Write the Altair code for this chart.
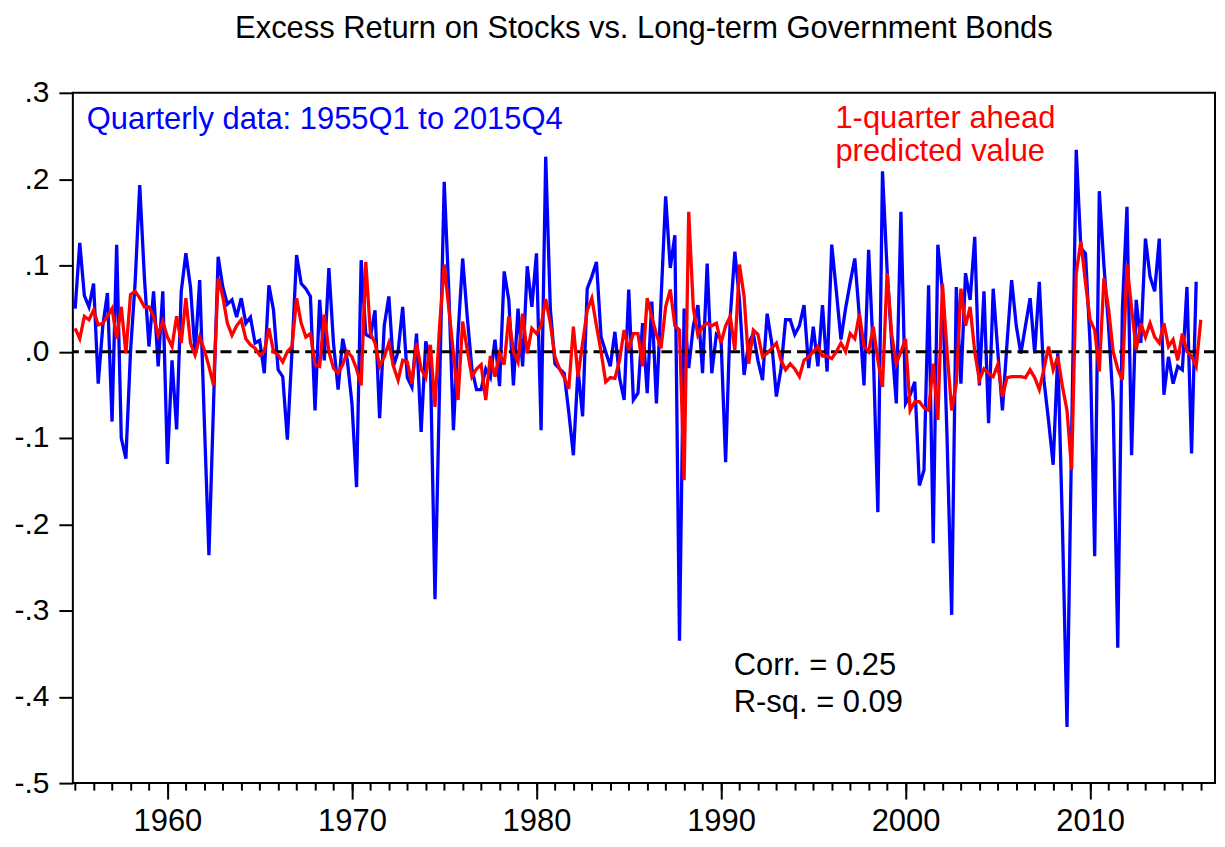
import altair as alt
import pandas as pd

# ---------------- data ----------------
# Excess return on stocks vs long-term government bonds, quarterly, 1955Q1..2015Q4
excess_1955_1964 = [
    0.050, 0.126, 0.065, 0.052, 0.079, -0.037, 0.030, 0.068, -0.081, 0.124,
    -0.100, -0.124, 0.000, 0.080, 0.193, 0.087, 0.006, 0.070, -0.017, 0.070,
    -0.130, -0.010, -0.090, 0.070, 0.114, 0.075, -0.002, 0.083, -0.080, -0.236,
    -0.060, 0.110, 0.075, 0.055, 0.060, 0.040, 0.062, 0.033, 0.040, 0.010]
excess_1965_1974 = [
    0.013, -0.025, 0.077, 0.048, -0.021, -0.029, -0.102, 0.000, 0.112, 0.079,
    0.073, 0.064, -0.068, 0.060, -0.010, 0.097, 0.010, -0.044, 0.015, -0.010,
    -0.060, -0.157, 0.106, 0.020, 0.017, 0.048, -0.077, 0.030, 0.064, -0.017,
    0.000, 0.052, -0.030, -0.041, 0.021, -0.093, 0.012, -0.010, -0.287, -0.040]
excess_1975_1984 = [
    0.197, 0.070, -0.091, 0.020, 0.108, 0.040, -0.020, -0.044, -0.044, -0.020,
    -0.030, 0.014, -0.040, 0.093, 0.060, -0.039, 0.050, -0.017, 0.099, 0.052,
    0.114, -0.091, 0.226, 0.050, -0.014, -0.020, -0.025, -0.070, -0.120, -0.020,
    -0.075, 0.073, 0.087, 0.104, 0.017, 0.000, -0.017, 0.023, -0.030, -0.056]
excess_1985_1994 = [
    0.072, -0.056, -0.048, 0.033, -0.048, 0.058, -0.060, 0.060, 0.180, 0.097,
    0.135, -0.335, 0.050, -0.019, 0.030, 0.054, -0.025, 0.102, -0.025, 0.020,
    0.015, -0.128, 0.040, 0.116, 0.060, -0.027, 0.010, 0.021, -0.010, -0.033,
    0.044, 0.010, -0.052, -0.020, 0.037, 0.037, 0.020, 0.030, 0.054, -0.019]
excess_1995_2004 = [
    0.029, -0.017, 0.054, -0.023, 0.124, 0.070, 0.014, 0.050, 0.080, 0.108,
    0.040, -0.039, 0.118, 0.000, -0.186, 0.209, 0.095, 0.010, -0.060, 0.162,
    -0.060, -0.050, -0.035, -0.155, -0.137, 0.077, -0.222, 0.124, 0.070, -0.100,
    -0.305, 0.075, -0.037, 0.091, 0.060, 0.133, -0.039, 0.070, -0.083, 0.073]
excess_2005_2015 = [
    0.000, -0.068, 0.010, 0.083, 0.030, -0.002, 0.030, 0.062, -0.002, 0.081,
    -0.033, -0.080, -0.131, -0.002, -0.200, -0.435, -0.100, 0.234, 0.120, 0.114,
    0.010, -0.237, 0.186, 0.100, 0.030, -0.060, -0.343, 0.050, 0.168, -0.120,
    0.060, 0.010, 0.131, 0.087, 0.070, 0.131, -0.050, -0.006, -0.037, -0.017,
    -0.021, 0.075, -0.118, 0.081]

# 1-quarter ahead predicted value, 1955Q1..2016Q1
predicted_1955_1964 = [
    0.027, 0.015, 0.041, 0.037, 0.048, 0.031, 0.033, 0.041, 0.050, 0.015,
    0.052, -0.002, 0.066, 0.070, 0.062, 0.052, 0.052, 0.041, 0.019, 0.035,
    0.017, 0.006, 0.041, 0.010, 0.062, 0.010, -0.004, 0.017, 0.002, -0.017,
    -0.039, 0.085, 0.064, 0.033, 0.019, 0.030, 0.037, 0.015, 0.008, 0.004]
predicted_1965_1974 = [
    -0.004, 0.000, 0.027, 0.000, -0.004, -0.012, 0.000, 0.006, 0.062, 0.033,
    0.017, 0.021, -0.015, -0.017, 0.043, 0.000, -0.019, -0.025, -0.015, 0.000,
    -0.006, -0.020, -0.039, 0.104, 0.021, 0.010, -0.017, -0.006, 0.010, -0.017,
    -0.033, -0.010, -0.012, -0.037, 0.010, -0.020, -0.030, 0.008, -0.064, 0.030]
predicted_1975_1984 = [
    0.101, 0.050, -0.002, -0.056, 0.035, 0.002, -0.029, -0.020, -0.015, -0.056,
    -0.005, -0.029, -0.002, -0.015, 0.041, 0.000, -0.012, 0.044, -0.002, 0.027,
    0.021, 0.030, 0.061, 0.033, -0.006, -0.020, -0.030, -0.043, 0.029, -0.029,
    0.010, 0.048, 0.062, 0.030, 0.000, -0.035, -0.030, -0.031, -0.010, 0.025]
predicted_1985_1994 = [
    0.002, 0.021, 0.021, -0.017, 0.062, 0.040, 0.020, 0.004, 0.052, 0.072,
    0.030, 0.025, -0.149, 0.162, 0.050, 0.019, 0.029, 0.033, 0.030, 0.033,
    0.010, 0.030, 0.041, 0.002, 0.101, 0.064, -0.014, 0.025, 0.020, -0.006,
    -0.002, 0.004, 0.010, -0.010, -0.021, -0.014, -0.020, -0.029, -0.010, -0.006]
predicted_1995_2004 = [
    0.000, 0.006, -0.005, -0.005, -0.008, 0.000, 0.010, 0.000, 0.021, 0.015,
    0.044, 0.006, 0.000, 0.029, -0.010, -0.041, 0.091, 0.020, -0.014, 0.000,
    0.015, -0.068, -0.058, -0.058, -0.065, -0.068, -0.014, -0.079, 0.079, 0.000,
    -0.068, -0.037, 0.073, 0.030, 0.052, 0.000, -0.033, -0.020, -0.025, -0.029]
predicted_2005_2016 = [
    -0.015, -0.052, -0.030, -0.029, -0.029, -0.029, -0.030, -0.021, -0.030, -0.044,
    -0.020, 0.006, -0.021, -0.006, -0.040, -0.068, -0.137, 0.091, 0.128, 0.080,
    0.037, 0.025, -0.023, 0.085, 0.050, 0.000, -0.020, -0.033, 0.101, 0.050,
    0.002, 0.033, 0.017, 0.033, 0.017, 0.010, 0.033, 0.006, 0.014, -0.010,
    0.021, 0.000, -0.005, -0.017, 0.037]

start_year = 1955
major_years = [1960, 1970, 1980, 1990, 2000, 2010]
minor_years = list(range(1955, 2017))
y_ticks = [-0.5, -0.4, -0.3, -0.2, -0.1, 0.0, 0.1, 0.2, 0.3]

title_text = "Excess Return on Stocks vs. Long-term Government Bonds"
note_texts = ["Quarterly data: 1955Q1 to 2015Q4", "1-quarter ahead",
              "predicted value", "Corr. = 0.25", "R-sq. = 0.09"]

# ---------------- tables ----------------
actual = (excess_1955_1964 + excess_1965_1974 + excess_1975_1984 +
          excess_1985_1994 + excess_1995_2004 + excess_2005_2015)
predicted = (predicted_1955_1964 + predicted_1965_1974 + predicted_1975_1984 +
             predicted_1985_1994 + predicted_1995_2004 + predicted_2005_2016)

df_act = pd.DataFrame({"t": [start_year + i / 4 for i in range(len(actual))],
                       "v": actual})
df_pred = pd.DataFrame({"t": [start_year + i / 4 for i in range(len(predicted))],
                        "v": predicted})
df_zero = pd.DataFrame({"v": [0.0]})

# annotation placement (data coordinates) and colours
note_t = [1955.63, 1996.20, 1996.20, 1990.69, 1990.69]
note_v = [0.2575, 0.2595, 0.2210, -0.3750, -0.4180]
note_c = ["#0000FF", "#FF0000", "#FF0000", "#000000", "#000000"]
df_notes = pd.DataFrame({"t": note_t, "v": note_v, "label": note_texts, "c": note_c})

FONT = "Liberation Sans"
x_scale = alt.Scale(domain=[1954.875, 2016.77], nice=False, zero=False)
y_scale = alt.Scale(domain=[-0.5, 0.3], nice=False, zero=False)

y_axis = alt.Axis(
    values=y_ticks,
    labelExpr="(datum.value < -0.0001 ? '-' : '') + '.' + format(round(abs(datum.value) * 10), 'd')",
    tickSize=14, tickWidth=2, tickColor="black",
    labelPadding=10, labelFontSize=30, labelFont=FONT, labelColor="black",
    domain=False, grid=False, title=None,
)
major_axis = alt.Axis(
    orient="bottom", values=major_years, format="d",
    tickSize=16, tickWidth=2, tickColor="black",
    labelPadding=8, labelFontSize=31, labelFont=FONT, labelColor="black",
    labelFlush=False, labelOverlap=False,
    domain=False, grid=False, title=None,
)
minor_axis = alt.Axis(
    orient="bottom", values=minor_years, labels=False,
    tickSize=7, tickWidth=2, tickColor="black",
    domain=False, grid=False, title=None,
)

Y = alt.Y("v:Q", scale=y_scale, axis=y_axis)

blue = alt.Chart(df_act).mark_line(color="#0000FF", strokeWidth=3.3).encode(
    x=alt.X("t:Q", scale=x_scale, axis=major_axis),
    y=Y,
)
zero = alt.Chart(df_zero).mark_rule(color="black", strokeWidth=3, strokeDash=[11, 6]).encode(
    y=Y,
)
red = alt.Chart(df_pred).mark_line(color="#FF0000", strokeWidth=3.3).encode(
    x=alt.X("t:Q", scale=x_scale, axis=minor_axis),
    y=Y,
)
notes = alt.Chart(df_notes).mark_text(
    align="left", baseline="alphabetic", fontSize=31, font=FONT
).encode(
    x=alt.X("t:Q", scale=x_scale, axis=None),
    y=Y,
    text="label:N",
    color=alt.Color("c:N", scale=None),
)

chart = (
    alt.layer(blue, zero, red, notes)
    .resolve_axis(x="independent", y="shared")
    .properties(
        width=1145, height=692,
        padding={"left": 65, "top": 84, "right": 2, "bottom": 55},
        autosize=alt.AutoSizeParams(type="none"),
        title=alt.Title(title_text, fontSize=31, font=FONT, fontWeight="normal",
                        color="black", anchor="middle", frame="group", offset=33),
        background="white",
    )
    .configure_view(stroke="black", strokeWidth=2)
)

chart.save("out.html", embed_options={"renderer": "svg", "actions": False})
